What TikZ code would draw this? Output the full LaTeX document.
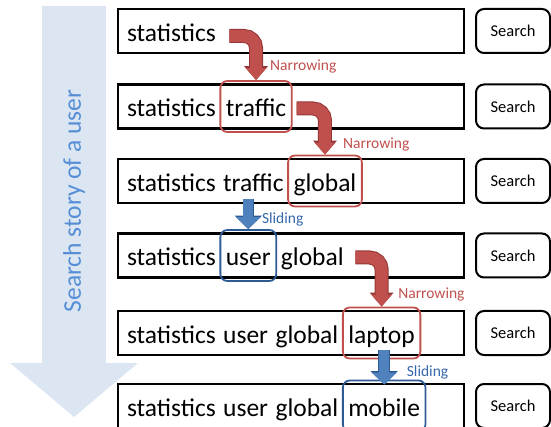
\documentclass[tikz,border=0pt]{standalone}
\usepackage{fontspec}
\setmainfont{Carlito}
\usetikzlibrary{positioning,arrows.meta}
\definecolor{storyfill}{HTML}{DCE6F2}
\definecolor{storytext}{HTML}{558ED5}
\definecolor{narrowred}{HTML}{C0504D}
\definecolor{narrowdark}{HTML}{943634}
\definecolor{slideblue}{HTML}{4F81BD}
\definecolor{slideline}{HTML}{2F5B95}
\definecolor{slidetext}{HTML}{3567AC}
\begin{document}
\begin{tikzpicture}[x=1pt,y=-1pt,
    qbox/.style={draw, line width=2.4pt, minimum width=346pt, minimum height=44pt, inner sep=0pt},
    sbtn/.style={draw, line width=2pt, rounded corners=8pt, minimum width=74pt, minimum height=44pt,
      font=\fontsize{16.5}{20}\selectfont},
    word/.style={inner xsep=3.5pt, inner ysep=3pt, text height=33pt, text depth=12pt,
      font=\fontsize{25.5}{30}\selectfont},
    hlred/.style={word, inner xsep=5.5pt, draw=narrowred, line width=1.8pt, rounded corners=7pt},
    hlblue/.style={word, inner xsep=5.5pt, draw=slideline, line width=1.8pt, rounded corners=7pt},
    narrow/.style={narrowred, line width=12pt, rounded corners=12pt, -{Triangle[width=20pt,length=12pt]},
      preaction={draw=narrowdark, line width=14pt, -{Triangle[width=23pt,length=14pt]}}},
    slide/.style={slideblue, line width=10pt, -{Triangle[width=24pt,length=12pt]},
      preaction={draw=slideline, line width=11.5pt, -{Triangle[width=26.5pt,length=13.5pt]}}},
    lblred/.style={text=narrowred, anchor=west, inner sep=0pt, font=\fontsize{15.5}{18}\selectfont},
    lblblue/.style={lblred, text=slidetext}]
  \useasboundingbox (0,0) rectangle (551,427);

  % time axis on the left
  \fill[storyfill] (42,6) -- (106,6) -- (106,363) -- (138,363) -- (74,417) -- (10,363) -- (42,363) -- cycle;
  \node[rotate=90, text=storytext, font=\fontsize{25.5}{30}\selectfont] (story) at (74,201) {Search story of a user};

  % query boxes and buttons
  \node[qbox] (r1) at (291,31) {};    \node[sbtn] (s1) at (513,31) {Search};
  \node[qbox] (r2) at (291,106.5) {}; \node[sbtn] (s2) at (513,106.5) {Search};
  \node[qbox] (r3) at (291,181) {};   \node[sbtn] (s3) at (513,181) {Search};
  \node[qbox] (r4) at (291,255.5) {}; \node[sbtn] (s4) at (513,255.5) {Search};
  \node[qbox] (r5) at (291,333) {};   \node[sbtn] (s5) at (513,333) {Search};
  \node[qbox] (r6) at (291,406) {};   \node[sbtn] (s6) at (513,406) {Search};

  % query words
  \node[word, anchor=base west] (q1a) at ([shift={(6.5,10.5)}]r1.west) {statistics};

  \node[word, anchor=base west] (q2a) at ([shift={(6.5,10.5)}]r2.west) {statistics};
  \node[hlred, base right=0pt of q2a] (q2b) {traffic};

  \node[word, anchor=base west] (q3a) at ([shift={(6.5,10.5)}]r3.west) {statistics};
  \node[word, base right=0pt of q3a] (q3b) {traffic};
  \node[hlred, base right=0pt of q3b] (q3c) {global};

  \node[word, anchor=base west] (q4a) at ([shift={(6.5,10.5)}]r4.west) {statistics};
  \node[hlblue, base right=0pt of q4a] (q4b) {user};
  \node[word, base right=0pt of q4b] (q4c) {global};

  \node[word, anchor=base west] (q5a) at ([shift={(6.5,10.5)}]r5.west) {statistics};
  \node[word, base right=0pt of q5a] (q5b) {user};
  \node[word, base right=0pt of q5b] (q5c) {global};
  \node[hlred, base right=0pt of q5c] (q5d) {laptop};

  \node[word, anchor=base west] (q6a) at ([shift={(6.5,10.5)}]r6.west) {statistics};
  \node[word, base right=0pt of q6a] (q6b) {user};
  \node[word, base right=0pt of q6b] (q6c) {global};
  \node[hlblue, base right=0pt of q6c] (q6d) {mobile};

  % refinements
  \draw[narrow] ([shift={(10,5)}]q1a.east) -| (q2b.north);
  \draw[narrow] ([shift={(4,2)}]q2b.east) -| (q3c.north);
  \draw[slide] ([yshift=8pt]q4b.north |- q3b.south) -- (q4b.north);
  \draw[narrow] ([shift={(8,2)}]q4c.east) -| (q5d.north);
  \draw[slide] ([yshift=9pt]q6d.north |- q5d.south) -- ([yshift=-5pt]q6d.north);

  \node[lblred] (n1) at ([shift={(14,-14)}]q2b.north) {Narrowing};
  \node[lblred] (n2) at ([shift={(18,-10)}]q3c.north) {Narrowing};
  \node[lblblue] (l1) at ([shift={(13.5,-10)}]q4b.north) {Sliding};
  \node[lblred] (n3) at ([shift={(16.5,-12)}]q5d.north) {Narrowing};
  \node[lblblue] (l2) at ([shift={(22.5,-7)}]q6d.north) {Sliding};
\end{tikzpicture}
\end{document}
